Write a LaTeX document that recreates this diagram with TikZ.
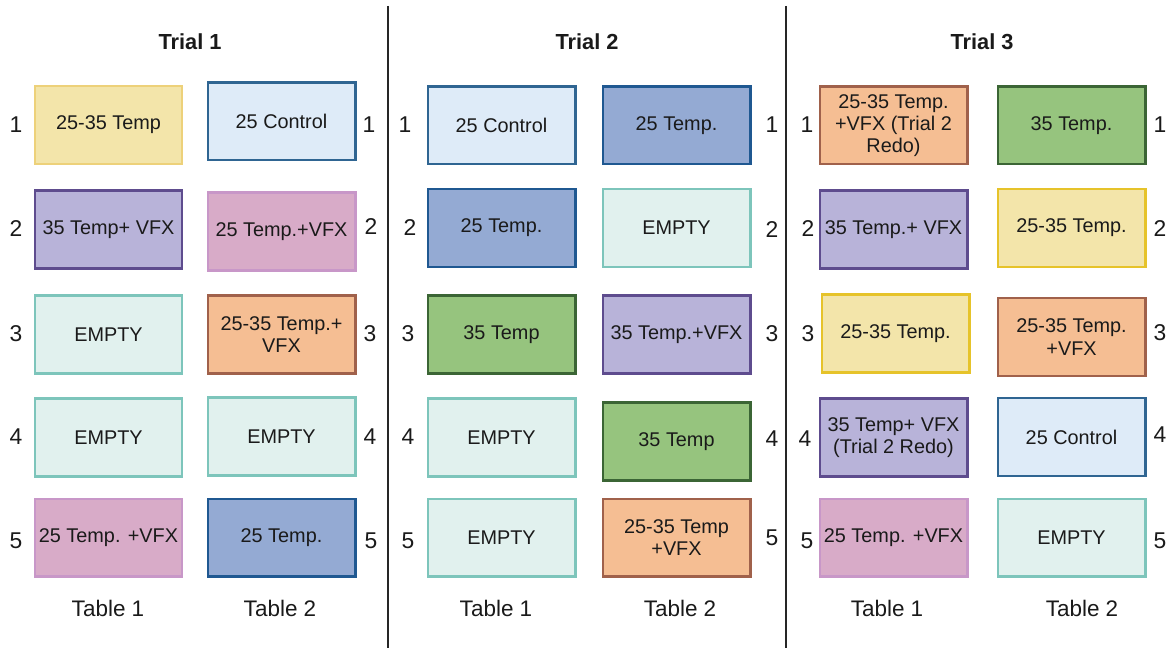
\documentclass[tikz,border=0pt]{standalone}
\usepackage{fontspec}
\setmainfont{Liberation Sans}
\usepackage{tikz}
\usetikzlibrary{positioning}

\definecolor{txt}{HTML}{1A1A1A}
\definecolor{yelfill}{HTML}{F3E5AA}
\definecolor{yeldraw}{HTML}{EDD17A}
\definecolor{yeldrawb}{HTML}{E6C32A}
\definecolor{ctlfill}{HTML}{DEEBF8}
\definecolor{ctldraw}{HTML}{2F6592}
\definecolor{purfill}{HTML}{B8B3D9}
\definecolor{purdraw}{HTML}{5E4C8E}
\definecolor{pinkfill}{HTML}{D8ABC8}
\definecolor{pinkdraw}{HTML}{C897C8}
\definecolor{mintfill}{HTML}{E1F1EE}
\definecolor{mintdraw}{HTML}{7DC5BB}
\definecolor{orfill}{HTML}{F5BE93}
\definecolor{ordraw}{HTML}{A0614B}
\definecolor{bluefill}{HTML}{94AAD3}
\definecolor{bluedraw}{HTML}{1F5891}
\definecolor{grnfill}{HTML}{96C47E}
\definecolor{grndraw}{HTML}{3B6535}

\begin{document}
\begin{tikzpicture}[x=0.02cm,y=-0.02cm,
		tube/.style={rectangle,line width=1.15pt,minimum width=2.96cm,minimum height=1.56cm,
			inner sep=1pt,align=center,text=txt,font=\fontsize{11.3}{12.6}\selectfont},
		yel/.style={tube,fill=yelfill,draw=yeldraw},
		yelb/.style={tube,fill=yelfill,draw=yeldrawb},
		ctl/.style={tube,fill=ctlfill,draw=ctldraw},
		pur/.style={tube,fill=purfill,draw=purdraw},
		pink/.style={tube,fill=pinkfill,draw=pinkdraw},
		mint/.style={tube,fill=mintfill,draw=mintdraw},
		orng/.style={tube,fill=orfill,draw=ordraw},
		blu/.style={tube,fill=bluefill,draw=bluedraw},
		grn/.style={tube,fill=grnfill,draw=grndraw},
		num/.style={text=txt,font=\fontsize{13}{14}\selectfont},
		tlabel/.style={text=txt,font=\fontsize{12.8}{14}\selectfont},
		trial/.style={text=txt,font=\fontsize{12.4}{14}\selectfont\bfseries}]

		\useasboundingbox (0,0) rectangle (1172,648);

		% Dividers
		\coordinate (d1top) at (388,6);
		\coordinate (d1bot) at (388,648);
		\coordinate (d2top) at (786,6);
		\coordinate (d2bot) at (786,648);
		\draw[line width=1.1pt,black!85] (d1top) -- (d1bot);
		\draw[line width=1.1pt,black!85] (d2top) -- (d2bot);

		% Trial 1
		\node[trial] (tr1) at (190,42) {Trial 1};

		\node[yel] (t1a1) at (108.5,125) {25-35 Temp};
		\node[pur] (t1a2) at (108.5,229.5) {35 Temp+ VFX};
		\node[mint] (t1a3) at (108.5,334.5) {EMPTY};
		\node[mint] (t1a4) at (108.5,437.5) {EMPTY};
		\node[pink] (t1a5) at (108.5,537.5) {25 Temp. +VFX};

		\node[ctl] (t1b1) at (281.5,121.5) {25 Control};
		\node[pink] (t1b2) at (281.5,231.5) {25 Temp.+VFX};
		\node[orng] (t1b3) at (281.5,334.5) {25-35 Temp.+\\VFX};
		\node[mint] (t1b4) at (281.5,436.5) {EMPTY};
		\node[blu] (t1b5) at (281.5,537.5) {25 Temp.};

		\node[num] at (16,125) {1};
		\node[num] at (16,229) {2};
		\node[num] at (16,334) {3};
		\node[num] at (16,437) {4};
		\node[num] at (16,541) {5};
		\node[num] at (369,125) {1};
		\node[num] at (371,227) {2};
		\node[num] at (370,334) {3};
		\node[num] at (370,437) {4};
		\node[num] at (371,541) {5};

		\node[tlabel] (tab11) at (108,608) {Table 1};
		\node[tlabel] (tab12) at (280,608) {Table 2};

		% Trial 2
		\node[trial] (tr2) at (587,42) {Trial 2};

		\node[ctl] (t2a1) at (501.5,125.5) {25 Control};
		\node[blu] (t2a2) at (501.5,228) {25 Temp.};
		\node[grn] (t2a3) at (501.5,334.5) {35 Temp};
		\node[mint] (t2a4) at (501.5,437.5) {EMPTY};
		\node[mint] (t2a5) at (501.5,537.5) {EMPTY};

		\node[blu] (t2b1) at (676.5,125.5) {25 Temp.};
		\node[mint] (t2b2) at (676.5,228) {EMPTY};
		\node[pur] (t2b3) at (676.5,334.5) {35 Temp.+VFX};
		\node[grn] (t2b4) at (676.5,441.5) {35 Temp};
		\node[orng] (t2b5) at (676.5,537.5) {25-35 Temp\\+VFX};

		\node[num] at (405,125) {1};
		\node[num] at (410,228) {2};
		\node[num] at (408,334) {3};
		\node[num] at (408,437) {4};
		\node[num] at (408,541) {5};
		\node[num] at (772,125) {1};
		\node[num] at (772,230) {2};
		\node[num] at (772,334) {3};
		\node[num] at (772,439) {4};
		\node[num] at (772,538) {5};

		\node[tlabel] (tab21) at (496,608) {Table 1};
		\node[tlabel] (tab22) at (680,608) {Table 2};

		% Trial 3
		\node[trial] (tr3) at (982,42) {Trial 3};

		\node[orng] (t3a1) at (893.5,125.5) {25-35 Temp.\\+VFX (Trial 2\\Redo)};
		\node[pur] (t3a2) at (893.5,229.5) {35 Temp.+ VFX};
		\node[yelb] (t3a3) at (895.5,333.5) {25-35 Temp.};
		\node[pur] (t3a4) at (893.5,437.5) {35 Temp+ VFX\\(Trial 2 Redo)};
		\node[pink] (t3a5) at (893.5,537.5) {25 Temp. +VFX};

		\node[grn] (t3b1) at (1071.5,125.5) {35 Temp.};
		\node[yelb] (t3b2) at (1071.5,228) {25-35 Temp.};
		\node[orng] (t3b3) at (1071.5,337) {25-35 Temp.\\+VFX};
		\node[ctl] (t3b4) at (1071.5,437) {25 Control};
		\node[mint] (t3b5) at (1071.5,537.5) {EMPTY};

		\node[num] at (807,125) {1};
		\node[num] at (808,229) {2};
		\node[num] at (808,334) {3};
		\node[num] at (805,439) {4};
		\node[num] at (807,541) {5};
		\node[num] at (1160,125) {1};
		\node[num] at (1160,229) {2};
		\node[num] at (1160,333) {3};
		\node[num] at (1160,435) {4};
		\node[num] at (1160,541) {5};

		\node[tlabel] (tab31) at (887,608) {Table 1};
		\node[tlabel] (tab32) at (1082,608) {Table 2};

	\end{tikzpicture}
\end{document}
